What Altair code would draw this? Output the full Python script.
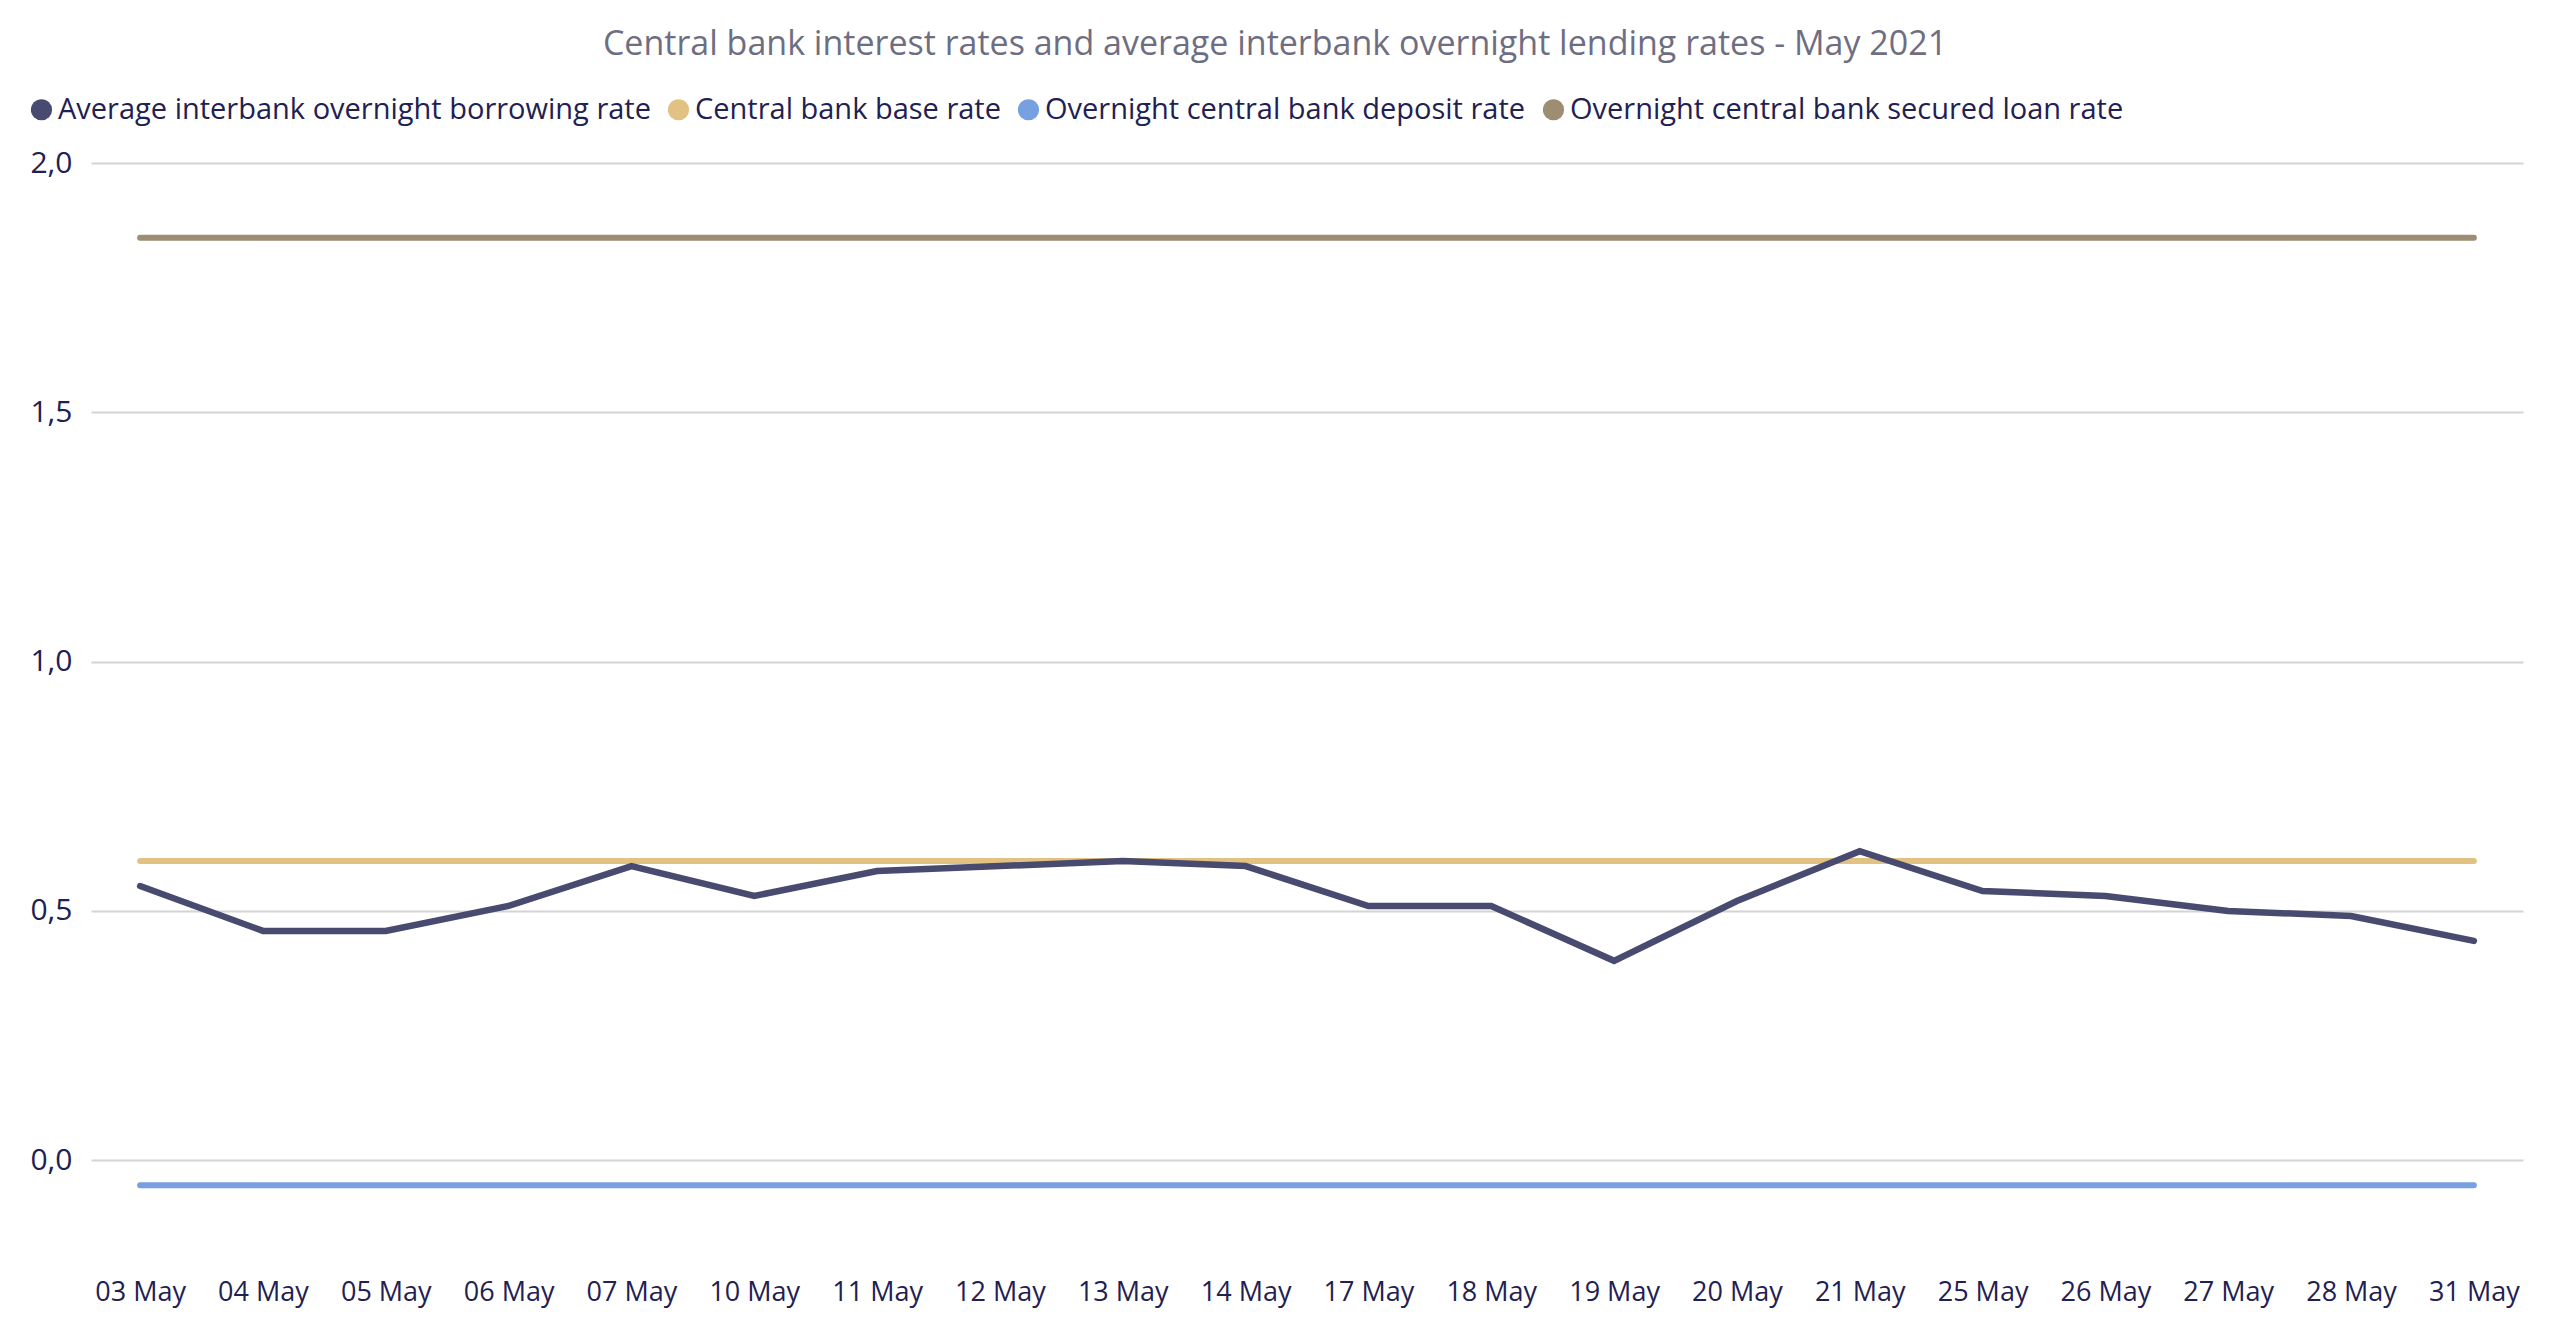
import altair as alt
import pandas as pd

dates = ["03 May", "04 May", "05 May", "06 May", "07 May", "10 May", "11 May",
         "12 May", "13 May", "14 May", "17 May", "18 May", "19 May", "20 May",
         "21 May", "25 May", "26 May", "27 May", "28 May", "31 May"]

borrowing = [0.55, 0.46, 0.46, 0.51, 0.59, 0.53, 0.58, 0.59, 0.60, 0.59,
             0.51, 0.51, 0.40, 0.52, 0.62, 0.54, 0.53, 0.50, 0.49, 0.44]
base_rate = [0.60] * 20
deposit_rate = [-0.05] * 20
secured_rate = [1.85] * 20

series_names = ["Average interbank overnight borrowing rate",
                "Central bank base rate",
                "Overnight central bank deposit rate",
                "Overnight central bank secured loan rate"]
series_colors = ["#484a6f", "#e2c282", "#77a0e0", "#9c8d73"]

rows = []
for name, vals in zip(series_names, [borrowing, base_rate, deposit_rate, secured_rate]):
    for d, v in zip(dates, vals):
        rows.append({"date": d, "rate": v, "series": name})
df = pd.DataFrame(rows)

FONT = "Open Sans"
NAVY = "#1f2152"

x = alt.X("date:N", sort=dates, title=None,
          scale=alt.Scale(type="point", padding=0.4),
          axis=alt.Axis(labelAngle=0, labelFontSize=27, labelColor=NAVY,
                        labelPadding=19, ticks=False, domain=False, grid=False,
                        labelFont=FONT))
y = alt.Y("rate:Q", title=None,
          scale=alt.Scale(domain=[-0.2, 2.0], nice=False, zero=False),
          axis=alt.Axis(values=[0, 0.5, 1, 1.5, 2],
                        labelExpr="replace(format(datum.value, '.1f'), '.', ',')",
                        labelFontSize=30, labelColor=NAVY, labelPadding=19,
                        ticks=False, domain=False, gridColor="#d4d4d4",
                        gridWidth=2, labelFont=FONT))
color = alt.Color("series:N",
                  scale=alt.Scale(domain=series_names, range=series_colors),
                  legend=None)
fill = alt.Fill("series:N",
                scale=alt.Scale(domain=series_names, range=series_colors),
                legend=alt.Legend(title=None, orient="none", direction="horizontal",
                                  legendX=-64, legendY=-68,
                                  symbolType="circle", symbolSize=450,
                                  symbolStrokeWidth=0, symbolOpacity=1,
                                  labelFontSize=29, labelColor=NAVY,
                                  labelFont=FONT, labelOffset=2,
                                  columnPadding=13, labelLimit=1000))

# invisible points that only carry the legend (filled circle symbols)
legend_pts = alt.Chart(df).mark_point(filled=True, opacity=0).encode(x=x, y=y, fill=fill)

flat = alt.Chart(df).transform_filter(
    alt.datum.series != series_names[0]
).mark_line(strokeWidth=6, strokeCap="round").encode(x=x, y=y, color=color)

main = alt.Chart(df).transform_filter(
    alt.datum.series == series_names[0]
).mark_line(strokeWidth=6.5, strokeCap="round", strokeJoin="miter").encode(x=x, y=y, color=color)

chart = alt.layer(legend_pts, flat, main).properties(
    width=2432, height=1097,
    padding={"left": 19, "top": 20, "right": 20, "bottom": 10},
    title=alt.TitleParams(
        "Central bank interest rates and average interbank overnight lending rates - May 2021",
        fontSize=34, font=FONT, fontWeight="normal", color="#6e6e82",
        anchor="middle", frame="bounds", offset=33),
    background="white",
).configure_view(stroke=None)

chart.save("out.html", embed_options={"renderer": "svg", "actions": False})
